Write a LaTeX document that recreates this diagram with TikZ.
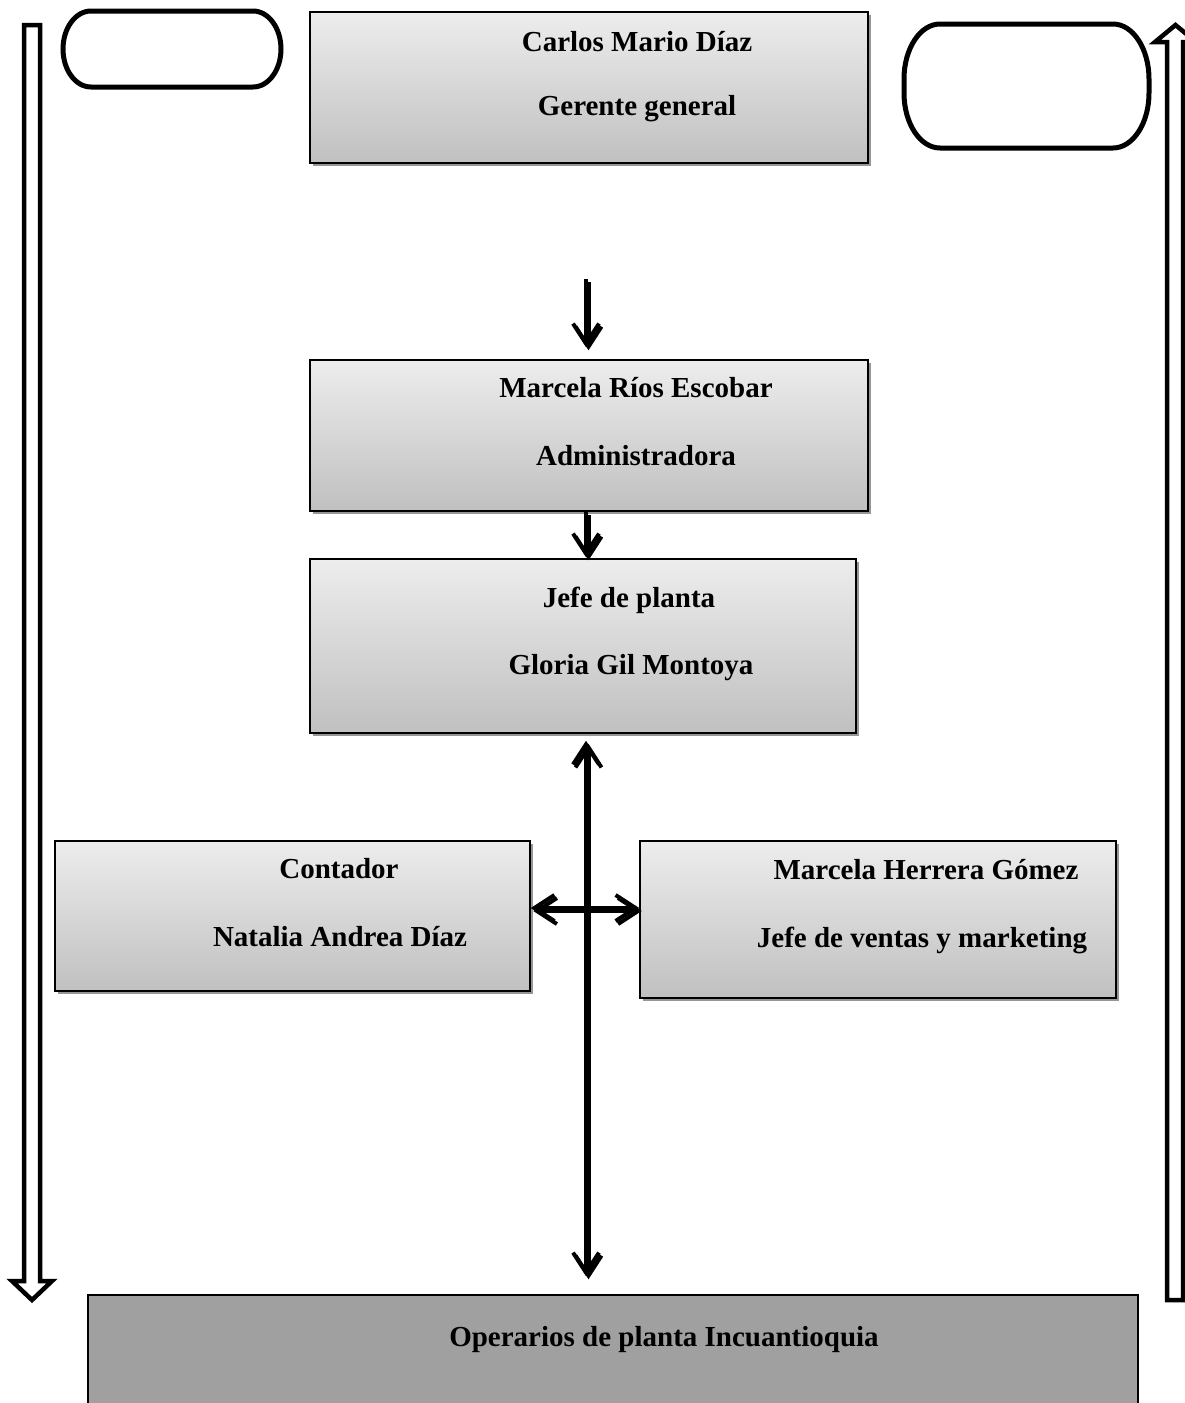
\documentclass[tikz,border=0pt]{standalone}
\usepackage{fontspec}
\setmainfont{Liberation Serif}
\usetikzlibrary{arrows.meta,shadows}
\definecolor{boxtop}{RGB}{237,237,237}
\definecolor{boxbot}{RGB}{192,192,192}
\definecolor{opfill}{RGB}{160,160,160}
\definecolor{shade}{RGB}{150,150,150}
\begin{document}
\begin{tikzpicture}[x=1pt,y=-1pt,
  box/.style={draw=black, line width=1.5pt, rectangle, inner sep=0pt,
    top color=boxtop, bottom color=boxbot,
    drop shadow={shadow xshift=3pt, shadow yshift=-3pt, fill=shade, opacity=1}},
  opbox/.style={draw=black, line width=1.5pt, rectangle, inner sep=0pt, fill=opfill},
  lbl/.style={anchor=base, inner sep=0pt, font=\fontsize{29}{35}\selectfont\bfseries},
  tipstyle/.style={Straight Barb[length=20pt,width=26pt]},
  conn/.style={line width=4pt, {Straight Barb[length=20pt,width=26pt]}-{Straight Barb[length=20pt,width=26pt]}},
  oneway/.style={line width=4pt, -{Straight Barb[length=20pt,width=26pt]}},
  shad/.style={shade, transform canvas={xshift=2.5pt,yshift=-3pt}},
  hollow/.style={draw=black, fill=white, line width=4.5pt, line join=miter},
  pill/.style={draw=black, line width=5pt}
]
\useasboundingbox (0,0) rectangle (1185,1403);
\clip (0,0) rectangle (1185,1403);

% empty rounded frames at the top corners
\draw[pill] (91,11) -- (253,11) arc[start angle=-90,end angle=0,x radius=28,y radius=38]
  arc[start angle=0,end angle=90,x radius=28,y radius=38] -- (91,87)
  arc[start angle=90,end angle=180,x radius=28,y radius=38]
  arc[start angle=180,end angle=270,x radius=28,y radius=38] -- cycle;
\draw[pill] (940,24) -- (1113,24) arc[start angle=-90,end angle=0,x radius=36,y radius=55]
  -- (1149,93) arc[start angle=0,end angle=90,x radius=36,y radius=55] -- (940,148)
  arc[start angle=90,end angle=180,x radius=36,y radius=55] -- (904,79)
  arc[start angle=180,end angle=270,x radius=36,y radius=55] -- cycle;

% long hollow arrows at the sides
\draw[hollow] (24,25) -- (40,25) -- (40,1281) -- (52,1281) -- (32,1300)
  -- (12,1281) -- (24,1281) -- cycle;
\draw[hollow] (1167,1300) -- (1167,42) -- (1155,42) -- (1175.5,25) -- (1196,42)
  -- (1183,42) -- (1183,1300) -- cycle;

% boxes
\node[box, minimum width=558pt, minimum height=151pt] (gerente) at (589,87.5) {};
\node[box, minimum width=558pt, minimum height=151pt] (admin) at (589,435.5) {};
\node[box, minimum width=546pt, minimum height=174pt] (planta) at (583,646) {};
\node[box, minimum width=475pt, minimum height=150pt] (contador) at (292.5,916) {};
\node[box, minimum width=476pt, minimum height=157pt] (ventas) at (878,919.5) {};
\node[opbox, minimum width=1050pt, minimum height=130pt] (operarios) at (613,1360) {};

% labels
\node[lbl] (l1a) at (637,51) {Carlos Mario Díaz};
\node[lbl] (l1b) at (637,115) {Gerente general};
\node[lbl] (l2a) at (636,397) {Marcela Ríos Escobar};
\node[lbl] (l2b) at (636,465) {Administradora};
\node[lbl] (l3a) at (629,607) {Jefe de planta};
\node[lbl] (l3b) at (631,674) {Gloria Gil Montoya};
\node[lbl] (l4a) at (339,878) {Contador};
\node[lbl] (l4b) at (340,946) {Natalia Andrea Díaz};
\node[lbl] (l5a) at (926,879) {Marcela Herrera Gómez};
\node[lbl] (l5b) at (922,947) {Jefe de ventas y marketing};
\node[lbl] (l6) at (664,1346) {Operarios de planta Incuantioquia};

% connectors
\coordinate (axis) at (586,0);
\coordinate (mid) at (0,908);
\foreach \s in {shad, black}{
  \draw[oneway, \s, shorten <=115pt, shorten >=12pt] (gerente.south -| axis) -- (admin.north -| axis);
  \draw[oneway, \s, shorten >=1pt] (admin.south -| axis) -- (planta.north -| axis);
  \draw[conn, \s, shorten <=7pt, shorten >=18pt] (planta.south -| axis) -- (operarios.north -| axis);
  \draw[conn, \s] (contador.east |- mid) -- (ventas.west |- mid);
}
\end{tikzpicture}
\end{document}
